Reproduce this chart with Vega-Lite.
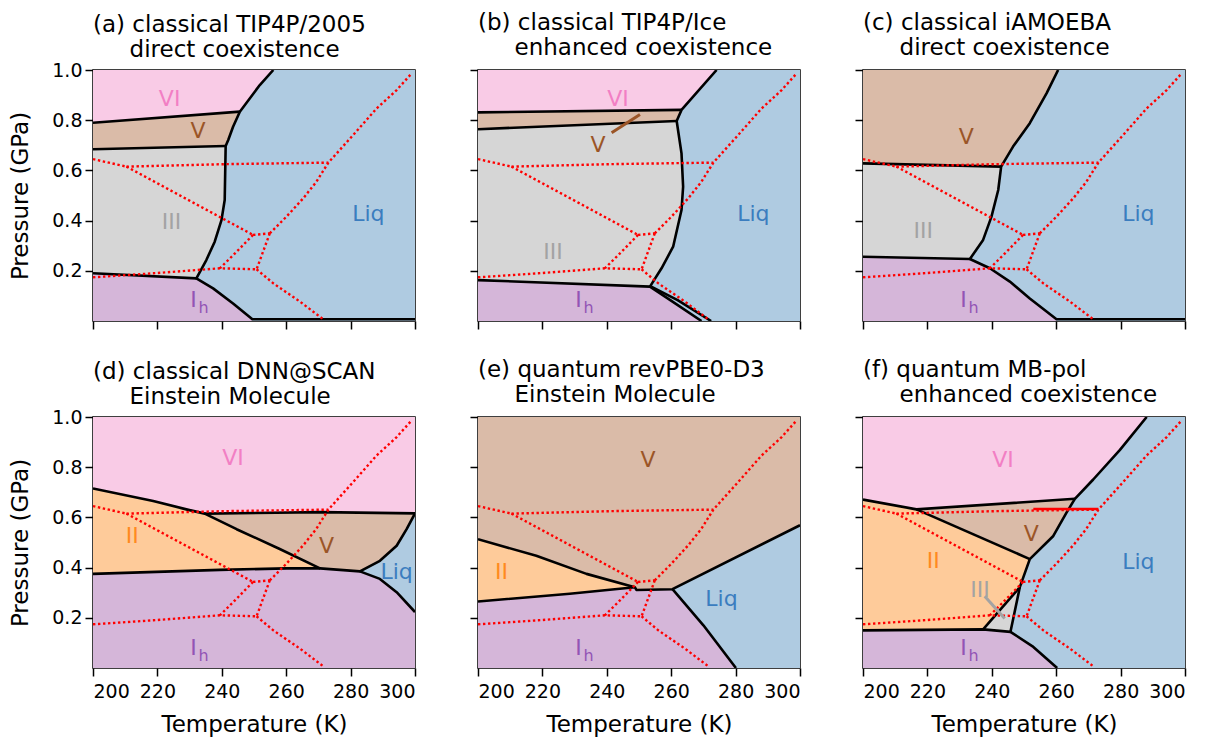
{
"$schema":"https://vega.github.io/schema/vega-lite/v6.json",
"background":"white",
"padding":{"left":9,"top":11,"right":5,"bottom":0},
"autosize":{"type":"pad"},
"config":{
 "font":"DejaVu Sans",
 "view":{"stroke":"black","strokeWidth":1.5},
 "axis":{"domain":false,"grid":false,"tickColor":"black","tickSize":8,"tickWidth":1.5,"labelFontSize":19,"labelColor":"black","labelFont":"DejaVu Sans","labelPadding":3,"titleFontSize":23,"titleFontWeight":"normal","titleColor":"black","titleFont":"DejaVu Sans"},
 "axisY":{"titlePadding":19},
 "axisX":{"labelPadding":6,"titlePadding":12},
 "title":{"font":"DejaVu Sans","fontSize":23,"fontWeight":"normal","anchor":"start","frame":"group","lineHeight":25,"color":"black"}
},
"datasets":{
"regions":[
{"p":"a","r":"Liq","i":0,"T":200,"P":0},{"p":"a","r":"Liq","i":1,"T":300,"P":0},{"p":"a","r":"Liq","i":2,"T":300,"P":1},{"p":"a","r":"Liq","i":3,"T":200,"P":1},
{"p":"a","r":"VI","i":0,"T":200,"P":1},{"p":"a","r":"VI","i":1,"T":256,"P":1},{"p":"a","r":"VI","i":2,"T":251.8,"P":0.94},{"p":"a","r":"VI","i":3,"T":245.6,"P":0.834},{"p":"a","r":"VI","i":4,"T":200,"P":0.79},
{"p":"a","r":"V","i":0,"T":200,"P":0.79},{"p":"a","r":"V","i":1,"T":245.6,"P":0.834},{"p":"a","r":"V","i":2,"T":243.5,"P":0.774},{"p":"a","r":"V","i":3,"T":242,"P":0.721},{"p":"a","r":"V","i":4,"T":241.2,"P":0.697},{"p":"a","r":"V","i":5,"T":200,"P":0.684},
{"p":"a","r":"III","i":0,"T":200,"P":0.684},{"p":"a","r":"III","i":1,"T":241.2,"P":0.697},{"p":"a","r":"III","i":2,"T":240.9,"P":0.482},{"p":"a","r":"III","i":3,"T":239.9,"P":0.402},{"p":"a","r":"III","i":4,"T":237.8,"P":0.316},{"p":"a","r":"III","i":5,"T":235.2,"P":0.243},{"p":"a","r":"III","i":6,"T":232.1,"P":0.17},{"p":"a","r":"III","i":7,"T":200,"P":0.19},
{"p":"a","r":"Ih","i":0,"T":200,"P":0.19},{"p":"a","r":"Ih","i":1,"T":232.1,"P":0.17},{"p":"a","r":"Ih","i":2,"T":237.3,"P":0.13},{"p":"a","r":"Ih","i":3,"T":243.5,"P":0.07},{"p":"a","r":"Ih","i":4,"T":249.5,"P":0.007},{"p":"a","r":"Ih","i":5,"T":249.5,"P":0},{"p":"a","r":"Ih","i":6,"T":200,"P":0},

{"p":"b","r":"Liq","i":0,"T":200,"P":0},{"p":"b","r":"Liq","i":1,"T":300,"P":0},{"p":"b","r":"Liq","i":2,"T":300,"P":1},{"p":"b","r":"Liq","i":3,"T":200,"P":1},
{"p":"b","r":"VI","i":0,"T":200,"P":1},{"p":"b","r":"VI","i":1,"T":274.1,"P":1},{"p":"b","r":"VI","i":2,"T":263.2,"P":0.841},{"p":"b","r":"VI","i":3,"T":200,"P":0.831},
{"p":"b","r":"V","i":0,"T":200,"P":0.831},{"p":"b","r":"V","i":1,"T":263.2,"P":0.841},{"p":"b","r":"V","i":2,"T":261.7,"P":0.797},{"p":"b","r":"V","i":3,"T":200,"P":0.764},
{"p":"b","r":"III","i":0,"T":200,"P":0.764},{"p":"b","r":"III","i":1,"T":261.7,"P":0.797},{"p":"b","r":"III","i":2,"T":263.2,"P":0.668},{"p":"b","r":"III","i":3,"T":263.7,"P":0.535},{"p":"b","r":"III","i":4,"T":263.2,"P":0.442},{"p":"b","r":"III","i":5,"T":260.6,"P":0.296},{"p":"b","r":"III","i":6,"T":257,"P":0.21},{"p":"b","r":"III","i":7,"T":253.4,"P":0.137},{"p":"b","r":"III","i":8,"T":200,"P":0.163},
{"p":"b","r":"Ih","i":0,"T":200,"P":0.163},{"p":"b","r":"Ih","i":1,"T":253.4,"P":0.137},{"p":"b","r":"Ih","i":2,"T":259.6,"P":0.084},{"p":"b","r":"Ih","i":3,"T":269.4,"P":0},{"p":"b","r":"Ih","i":4,"T":200,"P":0},

{"p":"c","r":"Liq","i":0,"T":200,"P":0},{"p":"c","r":"Liq","i":1,"T":300,"P":0},{"p":"c","r":"Liq","i":2,"T":300,"P":1},{"p":"c","r":"Liq","i":3,"T":200,"P":1},
{"p":"c","r":"V","i":0,"T":200,"P":1},{"p":"c","r":"V","i":1,"T":260.6,"P":1},{"p":"c","r":"V","i":2,"T":257,"P":0.907},{"p":"c","r":"V","i":3,"T":251.8,"P":0.788},{"p":"c","r":"V","i":4,"T":246.6,"P":0.695},{"p":"c","r":"V","i":5,"T":242.9,"P":0.615},{"p":"c","r":"V","i":6,"T":200,"P":0.628},
{"p":"c","r":"III","i":0,"T":200,"P":0.628},{"p":"c","r":"III","i":1,"T":242.9,"P":0.615},{"p":"c","r":"III","i":2,"T":242,"P":0.522},{"p":"c","r":"III","i":3,"T":239.9,"P":0.416},{"p":"c","r":"III","i":4,"T":237.3,"P":0.323},{"p":"c","r":"III","i":5,"T":233.2,"P":0.247},{"p":"c","r":"III","i":6,"T":200,"P":0.256},
{"p":"c","r":"Ih","i":0,"T":200,"P":0.256},{"p":"c","r":"Ih","i":1,"T":233.2,"P":0.247},{"p":"c","r":"Ih","i":2,"T":239.4,"P":0.21},{"p":"c","r":"Ih","i":3,"T":245.6,"P":0.157},{"p":"c","r":"Ih","i":4,"T":251.8,"P":0.09},{"p":"c","r":"Ih","i":5,"T":260.1,"P":0.007},{"p":"c","r":"Ih","i":6,"T":260.1,"P":0},{"p":"c","r":"Ih","i":7,"T":200,"P":0},

{"p":"d","r":"Liq","i":0,"T":200,"P":0},{"p":"d","r":"Liq","i":1,"T":300,"P":0},{"p":"d","r":"Liq","i":2,"T":300,"P":1},{"p":"d","r":"Liq","i":3,"T":200,"P":1},
{"p":"d","r":"VI","i":0,"T":200,"P":1},{"p":"d","r":"VI","i":1,"T":300,"P":1},{"p":"d","r":"VI","i":2,"T":300,"P":0.616},{"p":"d","r":"VI","i":3,"T":270.5,"P":0.621},{"p":"d","r":"VI","i":4,"T":234.7,"P":0.615},{"p":"d","r":"VI","i":5,"T":229,"P":0.632},{"p":"d","r":"VI","i":6,"T":218.7,"P":0.665},{"p":"d","r":"VI","i":7,"T":200,"P":0.715},
{"p":"d","r":"II","i":0,"T":200,"P":0.715},{"p":"d","r":"II","i":1,"T":218.7,"P":0.665},{"p":"d","r":"II","i":2,"T":229,"P":0.632},{"p":"d","r":"II","i":3,"T":234.7,"P":0.615},{"p":"d","r":"II","i":4,"T":244.6,"P":0.553},{"p":"d","r":"II","i":5,"T":258,"P":0.474},{"p":"d","r":"II","i":6,"T":270.5,"P":0.397},{"p":"d","r":"II","i":7,"T":260.1,"P":0.397},{"p":"d","r":"II","i":8,"T":239.4,"P":0.391},{"p":"d","r":"II","i":9,"T":200,"P":0.375},
{"p":"d","r":"V","i":0,"T":234.7,"P":0.615},{"p":"d","r":"V","i":1,"T":270.5,"P":0.621},{"p":"d","r":"V","i":2,"T":300,"P":0.616},{"p":"d","r":"V","i":3,"T":297.4,"P":0.553},{"p":"d","r":"V","i":4,"T":294.3,"P":0.487},{"p":"d","r":"V","i":5,"T":289.1,"P":0.427},{"p":"d","r":"V","i":6,"T":282.9,"P":0.385},{"p":"d","r":"V","i":7,"T":270.5,"P":0.397},{"p":"d","r":"V","i":8,"T":258,"P":0.474},{"p":"d","r":"V","i":9,"T":244.6,"P":0.553},
{"p":"d","r":"Ih","i":0,"T":200,"P":0.375},{"p":"d","r":"Ih","i":1,"T":239.4,"P":0.391},{"p":"d","r":"Ih","i":2,"T":260.1,"P":0.397},{"p":"d","r":"Ih","i":3,"T":270.5,"P":0.397},{"p":"d","r":"Ih","i":4,"T":282.9,"P":0.385},{"p":"d","r":"Ih","i":5,"T":289.1,"P":0.355},{"p":"d","r":"Ih","i":6,"T":294.3,"P":0.302},{"p":"d","r":"Ih","i":7,"T":300,"P":0.223},{"p":"d","r":"Ih","i":8,"T":300,"P":0},{"p":"d","r":"Ih","i":9,"T":200,"P":0},

{"p":"e","r":"Liq","i":0,"T":200,"P":0},{"p":"e","r":"Liq","i":1,"T":300,"P":0},{"p":"e","r":"Liq","i":2,"T":300,"P":1},{"p":"e","r":"Liq","i":3,"T":200,"P":1},
{"p":"e","r":"V","i":0,"T":200,"P":1},{"p":"e","r":"V","i":1,"T":300,"P":1},{"p":"e","r":"V","i":2,"T":300,"P":0.569},{"p":"e","r":"V","i":3,"T":260.4,"P":0.314},{"p":"e","r":"V","i":4,"T":249.2,"P":0.311},{"p":"e","r":"V","i":5,"T":248.7,"P":0.322},{"p":"e","r":"V","i":6,"T":233.7,"P":0.375},{"p":"e","r":"V","i":7,"T":218.1,"P":0.447},{"p":"e","r":"V","i":8,"T":200,"P":0.513},
{"p":"e","r":"II","i":0,"T":200,"P":0.513},{"p":"e","r":"II","i":1,"T":218.1,"P":0.447},{"p":"e","r":"II","i":2,"T":233.7,"P":0.375},{"p":"e","r":"II","i":3,"T":248.7,"P":0.322},{"p":"e","r":"II","i":4,"T":228.5,"P":0.296},{"p":"e","r":"II","i":5,"T":200,"P":0.265},
{"p":"e","r":"Ih","i":0,"T":200,"P":0.265},{"p":"e","r":"Ih","i":1,"T":228.5,"P":0.296},{"p":"e","r":"Ih","i":2,"T":248.7,"P":0.322},{"p":"e","r":"Ih","i":3,"T":249.2,"P":0.311},{"p":"e","r":"Ih","i":4,"T":260.4,"P":0.314},{"p":"e","r":"Ih","i":5,"T":270,"P":0.17},{"p":"e","r":"Ih","i":6,"T":280.1,"P":0},{"p":"e","r":"Ih","i":7,"T":200,"P":0},

{"p":"f","r":"Liq","i":0,"T":200,"P":0},{"p":"f","r":"Liq","i":1,"T":300,"P":0},{"p":"f","r":"Liq","i":2,"T":300,"P":1},{"p":"f","r":"Liq","i":3,"T":200,"P":1},
{"p":"f","r":"VI","i":0,"T":200,"P":1},{"p":"f","r":"VI","i":1,"T":288.1,"P":1},{"p":"f","r":"VI","i":2,"T":279.8,"P":0.869},{"p":"f","r":"VI","i":3,"T":271.5,"P":0.751},{"p":"f","r":"VI","i":4,"T":265.8,"P":0.674},{"p":"f","r":"VI","i":5,"T":216.6,"P":0.632},{"p":"f","r":"VI","i":6,"T":200,"P":0.671},
{"p":"f","r":"V","i":0,"T":216.6,"P":0.632},{"p":"f","r":"V","i":1,"T":265.8,"P":0.674},{"p":"f","r":"V","i":2,"T":263.2,"P":0.619},{"p":"f","r":"V","i":3,"T":259.1,"P":0.526},{"p":"f","r":"V","i":4,"T":251.8,"P":0.434},
{"p":"f","r":"II","i":0,"T":200,"P":0.671},{"p":"f","r":"II","i":1,"T":216.6,"P":0.632},{"p":"f","r":"II","i":2,"T":251.8,"P":0.434},{"p":"f","r":"II","i":3,"T":248.7,"P":0.322},{"p":"f","r":"II","i":4,"T":237.3,"P":0.154},{"p":"f","r":"II","i":5,"T":200,"P":0.15},
{"p":"f","r":"III","i":0,"T":248.7,"P":0.322},{"p":"f","r":"III","i":1,"T":245.8,"P":0.144},{"p":"f","r":"III","i":2,"T":237.3,"P":0.154},
{"p":"f","r":"Ih","i":0,"T":200,"P":0.15},{"p":"f","r":"Ih","i":1,"T":237.3,"P":0.154},{"p":"f","r":"Ih","i":2,"T":245.8,"P":0.144},{"p":"f","r":"Ih","i":3,"T":252.9,"P":0.084},{"p":"f","r":"Ih","i":4,"T":260.3,"P":0},{"p":"f","r":"Ih","i":5,"T":200,"P":0}
],
"bounds":[
{"p":"a","s":1,"i":0,"T":256,"P":1},{"p":"a","s":1,"i":1,"T":251.8,"P":0.94},{"p":"a","s":1,"i":2,"T":245.6,"P":0.834},{"p":"a","s":1,"i":3,"T":243.5,"P":0.774},{"p":"a","s":1,"i":4,"T":242,"P":0.721},{"p":"a","s":1,"i":5,"T":241.2,"P":0.697},{"p":"a","s":1,"i":6,"T":240.9,"P":0.482},{"p":"a","s":1,"i":7,"T":239.9,"P":0.402},{"p":"a","s":1,"i":8,"T":237.8,"P":0.316},{"p":"a","s":1,"i":9,"T":235.2,"P":0.243},{"p":"a","s":1,"i":10,"T":232.1,"P":0.17},{"p":"a","s":1,"i":11,"T":237.3,"P":0.13},{"p":"a","s":1,"i":12,"T":243.5,"P":0.07},{"p":"a","s":1,"i":13,"T":249.5,"P":0.007},{"p":"a","s":1,"i":14,"T":300,"P":0.007},
{"p":"a","s":2,"i":0,"T":200,"P":0.79},{"p":"a","s":2,"i":1,"T":245.6,"P":0.834},
{"p":"a","s":3,"i":0,"T":200,"P":0.684},{"p":"a","s":3,"i":1,"T":241.2,"P":0.697},
{"p":"a","s":4,"i":0,"T":200,"P":0.19},{"p":"a","s":4,"i":1,"T":232.1,"P":0.17},

{"p":"b","s":1,"i":0,"T":274.1,"P":1},{"p":"b","s":1,"i":1,"T":263.2,"P":0.841},{"p":"b","s":1,"i":2,"T":261.7,"P":0.797},{"p":"b","s":1,"i":3,"T":263.2,"P":0.668},{"p":"b","s":1,"i":4,"T":263.7,"P":0.535},{"p":"b","s":1,"i":5,"T":263.2,"P":0.442},{"p":"b","s":1,"i":6,"T":260.6,"P":0.296},{"p":"b","s":1,"i":7,"T":257,"P":0.21},{"p":"b","s":1,"i":8,"T":253.4,"P":0.137},{"p":"b","s":1,"i":9,"T":259.6,"P":0.084},{"p":"b","s":1,"i":10,"T":269.4,"P":0},
{"p":"b","s":2,"i":0,"T":200,"P":0.831},{"p":"b","s":2,"i":1,"T":263.2,"P":0.841},
{"p":"b","s":3,"i":0,"T":200,"P":0.764},{"p":"b","s":3,"i":1,"T":261.7,"P":0.797},
{"p":"b","s":4,"i":0,"T":200,"P":0.163},{"p":"b","s":4,"i":1,"T":253.4,"P":0.137},
{"p":"b","s":5,"i":0,"T":253.8,"P":0.137},{"p":"b","s":5,"i":1,"T":262,"P":0.083},{"p":"b","s":5,"i":2,"T":272.4,"P":0},

{"p":"c","s":1,"i":0,"T":260.6,"P":1},{"p":"c","s":1,"i":1,"T":257,"P":0.907},{"p":"c","s":1,"i":2,"T":251.8,"P":0.788},{"p":"c","s":1,"i":3,"T":246.6,"P":0.695},{"p":"c","s":1,"i":4,"T":242.9,"P":0.615},{"p":"c","s":1,"i":5,"T":242,"P":0.522},{"p":"c","s":1,"i":6,"T":239.9,"P":0.416},{"p":"c","s":1,"i":7,"T":237.3,"P":0.323},{"p":"c","s":1,"i":8,"T":233.2,"P":0.247},{"p":"c","s":1,"i":9,"T":239.4,"P":0.21},{"p":"c","s":1,"i":10,"T":245.6,"P":0.157},{"p":"c","s":1,"i":11,"T":251.8,"P":0.09},{"p":"c","s":1,"i":12,"T":260.1,"P":0.007},{"p":"c","s":1,"i":13,"T":300,"P":0.007},
{"p":"c","s":2,"i":0,"T":200,"P":0.628},{"p":"c","s":2,"i":1,"T":242.9,"P":0.615},
{"p":"c","s":3,"i":0,"T":200,"P":0.256},{"p":"c","s":3,"i":1,"T":233.2,"P":0.247},

{"p":"d","s":1,"i":0,"T":200,"P":0.715},{"p":"d","s":1,"i":1,"T":218.7,"P":0.665},{"p":"d","s":1,"i":2,"T":229,"P":0.632},{"p":"d","s":1,"i":3,"T":234.7,"P":0.615},{"p":"d","s":1,"i":4,"T":244.6,"P":0.553},{"p":"d","s":1,"i":5,"T":258,"P":0.474},{"p":"d","s":1,"i":6,"T":270.5,"P":0.397},{"p":"d","s":1,"i":7,"T":282.9,"P":0.385},{"p":"d","s":1,"i":8,"T":289.1,"P":0.427},{"p":"d","s":1,"i":9,"T":294.3,"P":0.487},{"p":"d","s":1,"i":10,"T":297.4,"P":0.553},{"p":"d","s":1,"i":11,"T":300,"P":0.616},
{"p":"d","s":2,"i":0,"T":234.7,"P":0.615},{"p":"d","s":2,"i":1,"T":270.5,"P":0.621},{"p":"d","s":2,"i":2,"T":300,"P":0.616},
{"p":"d","s":3,"i":0,"T":200,"P":0.375},{"p":"d","s":3,"i":1,"T":239.4,"P":0.391},{"p":"d","s":3,"i":2,"T":260.1,"P":0.397},{"p":"d","s":3,"i":3,"T":270.5,"P":0.397},
{"p":"d","s":4,"i":0,"T":282.9,"P":0.385},{"p":"d","s":4,"i":1,"T":289.1,"P":0.355},{"p":"d","s":4,"i":2,"T":294.3,"P":0.302},{"p":"d","s":4,"i":3,"T":300,"P":0.223},

{"p":"e","s":1,"i":0,"T":200,"P":0.513},{"p":"e","s":1,"i":1,"T":218.1,"P":0.447},{"p":"e","s":1,"i":2,"T":233.7,"P":0.375},{"p":"e","s":1,"i":3,"T":248.7,"P":0.322},{"p":"e","s":1,"i":4,"T":249.2,"P":0.311},{"p":"e","s":1,"i":5,"T":260.4,"P":0.314},{"p":"e","s":1,"i":6,"T":300,"P":0.569},
{"p":"e","s":2,"i":0,"T":200,"P":0.265},{"p":"e","s":2,"i":1,"T":228.5,"P":0.296},{"p":"e","s":2,"i":2,"T":248.7,"P":0.322},
{"p":"e","s":3,"i":0,"T":260.4,"P":0.314},{"p":"e","s":3,"i":1,"T":270,"P":0.17},{"p":"e","s":3,"i":2,"T":280.1,"P":0},

{"p":"f","s":1,"i":0,"T":288.1,"P":1},{"p":"f","s":1,"i":1,"T":279.8,"P":0.869},{"p":"f","s":1,"i":2,"T":271.5,"P":0.751},{"p":"f","s":1,"i":3,"T":265.8,"P":0.674},{"p":"f","s":1,"i":4,"T":263.2,"P":0.619},{"p":"f","s":1,"i":5,"T":259.1,"P":0.526},{"p":"f","s":1,"i":6,"T":251.8,"P":0.434},{"p":"f","s":1,"i":7,"T":248.7,"P":0.322},{"p":"f","s":1,"i":8,"T":245.8,"P":0.144},{"p":"f","s":1,"i":9,"T":252.9,"P":0.084},{"p":"f","s":1,"i":10,"T":260.3,"P":0},
{"p":"f","s":2,"i":0,"T":200,"P":0.671},{"p":"f","s":2,"i":1,"T":216.6,"P":0.632},{"p":"f","s":2,"i":2,"T":265.8,"P":0.674},
{"p":"f","s":3,"i":0,"T":216.6,"P":0.632},{"p":"f","s":3,"i":1,"T":251.8,"P":0.434},
{"p":"f","s":4,"i":0,"T":248.7,"P":0.322},{"p":"f","s":4,"i":1,"T":237.3,"P":0.154},
{"p":"f","s":5,"i":0,"T":200,"P":0.15},{"p":"f","s":5,"i":1,"T":237.3,"P":0.154},{"p":"f","s":5,"i":2,"T":245.8,"P":0.144}
],
"exp":[
{"s":1,"i":0,"T":200,"P":0.645},{"s":1,"i":1,"T":210.4,"P":0.615},
{"s":2,"i":0,"T":210.4,"P":0.615},{"s":2,"i":1,"T":241.5,"P":0.625},{"s":2,"i":2,"T":273.1,"P":0.631},
{"s":3,"i":0,"T":210.4,"P":0.615},{"s":3,"i":1,"T":249.7,"P":0.343},
{"s":4,"i":0,"T":249.7,"P":0.343},{"s":4,"i":1,"T":254.9,"P":0.349},
{"s":5,"i":0,"T":254.9,"P":0.349},{"s":5,"i":1,"T":260.1,"P":0.416},{"s":5,"i":2,"T":265.3,"P":0.489},{"s":5,"i":3,"T":269.4,"P":0.555},{"s":5,"i":4,"T":273.1,"P":0.631},{"s":5,"i":5,"T":280.8,"P":0.741},{"s":5,"i":6,"T":288.1,"P":0.847},{"s":5,"i":7,"T":294.3,"P":0.92},{"s":5,"i":8,"T":299,"P":0.987},
{"s":6,"i":0,"T":249.7,"P":0.343},{"s":6,"i":1,"T":244.6,"P":0.276},{"s":6,"i":2,"T":239.4,"P":0.21},
{"s":7,"i":0,"T":254.9,"P":0.349},{"s":7,"i":1,"T":250.8,"P":0.206},
{"s":8,"i":0,"T":200,"P":0.174},{"s":8,"i":1,"T":218.7,"P":0.19},{"s":8,"i":2,"T":239.4,"P":0.21},{"s":8,"i":3,"T":250.8,"P":0.206},
{"s":9,"i":0,"T":250.8,"P":0.206},{"s":9,"i":1,"T":256,"P":0.15},{"s":9,"i":2,"T":264.3,"P":0.077},{"s":9,"i":3,"T":271.5,"P":0.007}
],
"solidred":[
{"p":"f","i":0,"T":252.9,"P":0.633},{"p":"f","i":1,"T":273.1,"P":0.633}
],
"labels":[
{"p":"a","ph":"VI","t":"VI","T":223.8,"P":0.883},{"p":"a","ph":"V","t":"V","T":232.6,"P":0.758},{"p":"a","ph":"III","t":"III","T":224.4,"P":0.396},{"p":"a","ph":"Ih","t":"I","T":231.2,"P":0.083},{"p":"a","ph":"Liq","t":"Liq","T":285.5,"P":0.426},
{"p":"b","ph":"VI","t":"VI","T":243.5,"P":0.883},{"p":"b","ph":"V","t":"V","T":237.3,"P":0.701},{"p":"b","ph":"III","t":"III","T":223.3,"P":0.276},{"p":"b","ph":"Ih","t":"I","T":231.2,"P":0.083},{"p":"b","ph":"Liq","t":"Liq","T":285.5,"P":0.426},
{"p":"c","ph":"V","t":"V","T":232.1,"P":0.734},{"p":"c","ph":"III","t":"III","T":218.7,"P":0.36},{"p":"c","ph":"Ih","t":"I","T":231.2,"P":0.083},{"p":"c","ph":"Liq","t":"Liq","T":285.5,"P":0.426},
{"p":"d","ph":"VI","t":"VI","T":243.5,"P":0.836},{"p":"d","ph":"II","t":"II","T":212.2,"P":0.526},{"p":"d","ph":"V","t":"V","T":272.5,"P":0.487},{"p":"d","ph":"Ih","t":"I","T":231.2,"P":0.08},{"p":"d","ph":"Liq","t":"Liq","T":294.3,"P":0.381},
{"p":"e","ph":"V","t":"V","T":252.8,"P":0.83},{"p":"e","ph":"II","t":"II","T":207.3,"P":0.381},{"p":"e","ph":"Liq","t":"Liq","T":275.6,"P":0.276},{"p":"e","ph":"Ih","t":"I","T":231.2,"P":0.08},
{"p":"f","ph":"VI","t":"VI","T":243.5,"P":0.83},{"p":"f","ph":"V","t":"V","T":252.3,"P":0.533},{"p":"f","ph":"II","t":"II","T":221.8,"P":0.427},{"p":"f","ph":"III","t":"III","T":236.3,"P":0.309},{"p":"f","ph":"Liq","t":"Liq","T":285.5,"P":0.421},{"p":"f","ph":"Ih","t":"I","T":231.2,"P":0.08}
],
"leaders":[
{"p":"b","ph":"V","i":0,"T":241.5,"P":0.75},{"p":"b","ph":"V","i":1,"T":250.3,"P":0.823},
{"p":"f","ph":"III","i":0,"T":237.8,"P":0.286},{"p":"f","ph":"III","i":1,"T":244,"P":0.197}
]
},
"columns":3,
"spacing":{"row":96,"column":63},
"bounds":"flush",
"concat":[
{"width":322,"height":251,
 "title":{"text":["(a) classical TIP4P/2005","\u200b\u00a0\u00a0\u00a0\u00a0\u00a0direct coexistence"],"offset":-1},
 "encoding":{
  "x":{"field":"T","type":"quantitative","scale":{"domain":[200,300],"nice":false,"zero":false},"axis":{"values":[200,220,240,260,280,300],"labels":false,"title":null}},
  "y":{"field":"P","type":"quantitative","scale":{"domain":[0,1],"nice":false,"zero":false},"axis":{"values":[0.2,0.4,0.6,0.8,1.0],"format":".1f","title":"Pressure (GPa)"}}},
 "layer":[
  {"data":{"name":"regions"},"transform":[{"filter":"datum.p=='a'"}],"mark":{"type":"line","filled":true,"clip":true},"encoding":{"fill":{"field":"r","type":"nominal","legend":null,"scale":{"domain":["Liq","VI","V","III","Ih","II"],"range":["#afcbe1","#f9cbe6","#dabba8","#d6d6d6","#d5b6d9","#fecb9a"]}},"order":{"field":"i","type":"quantitative"}}},
  {"data":{"name":"bounds"},"transform":[{"filter":"datum.p=='a'"}],"mark":{"type":"line","color":"black","strokeWidth":2.6,"strokeJoin":"round","clip":true},"encoding":{"detail":{"field":"s","type":"nominal"},"order":{"field":"i","type":"quantitative"}}},
  {"data":{"name":"exp"},"mark":{"type":"line","color":"#ff0000","strokeWidth":2.4,"strokeDash":[2.4,2.6],"clip":true},"encoding":{"detail":{"field":"s","type":"nominal"},"order":{"field":"i","type":"quantitative"}}},
  {"data":{"name":"labels"},"transform":[{"filter":"datum.p=='a'"}],"mark":{"type":"text","fontSize":22,"baseline":"middle","align":"center"},"encoding":{"text":{"field":"t","type":"nominal"},"color":{"field":"ph","type":"nominal","legend":null,"scale":{"domain":["Liq","VI","V","III","Ih","II"],"range":["#3b7dbf","#f27fc4","#9b5527","#a3a3a3","#9354b5","#ff8a1f"]}}}},
  {"data":{"name":"labels"},"transform":[{"filter":"datum.p=='a' && datum.ph=='Ih'"}],"mark":{"type":"text","fontSize":16,"baseline":"middle","align":"center","dx":10,"dy":8,"color":"#9354b5"},"encoding":{"text":{"value":"h"}}}
 ]},
{"width":322,"height":251,
 "title":{"text":["(b) classical TIP4P/Ice","\u200b\u00a0\u00a0\u00a0\u00a0\u00a0enhanced coexistence"],"offset":9},
 "encoding":{
  "x":{"field":"T","type":"quantitative","scale":{"domain":[200,300],"nice":false,"zero":false},"axis":{"values":[200,220,240,260,280,300],"labels":false,"title":null}},
  "y":{"field":"P","type":"quantitative","scale":{"domain":[0,1],"nice":false,"zero":false},"axis":{"values":[0.2,0.4,0.6,0.8,1.0],"labels":false,"title":null}}},
 "layer":[
  {"data":{"name":"regions"},"transform":[{"filter":"datum.p=='b'"}],"mark":{"type":"line","filled":true,"clip":true},"encoding":{"fill":{"field":"r","type":"nominal","legend":null,"scale":{"domain":["Liq","VI","V","III","Ih","II"],"range":["#afcbe1","#f9cbe6","#dabba8","#d6d6d6","#d5b6d9","#fecb9a"]}},"order":{"field":"i","type":"quantitative"}}},
  {"data":{"name":"bounds"},"transform":[{"filter":"datum.p=='b'"}],"mark":{"type":"line","color":"black","strokeWidth":2.6,"strokeJoin":"round","clip":true},"encoding":{"detail":{"field":"s","type":"nominal"},"order":{"field":"i","type":"quantitative"}}},
  {"data":{"name":"exp"},"mark":{"type":"line","color":"#ff0000","strokeWidth":2.4,"strokeDash":[2.4,2.6],"clip":true},"encoding":{"detail":{"field":"s","type":"nominal"},"order":{"field":"i","type":"quantitative"}}},
  {"data":{"name":"leaders"},"transform":[{"filter":"datum.p=='b'"}],"mark":{"type":"line","strokeWidth":3,"clip":true},"encoding":{"color":{"field":"ph","type":"nominal","legend":null,"scale":{"domain":["Liq","VI","V","III","Ih","II"],"range":["#3b7dbf","#f27fc4","#9b5527","#a3a3a3","#9354b5","#ff8a1f"]}},"order":{"field":"i","type":"quantitative"}}},
  {"data":{"name":"labels"},"transform":[{"filter":"datum.p=='b'"}],"mark":{"type":"text","fontSize":22,"baseline":"middle","align":"center"},"encoding":{"text":{"field":"t","type":"nominal"},"color":{"field":"ph","type":"nominal","legend":null,"scale":{"domain":["Liq","VI","V","III","Ih","II"],"range":["#3b7dbf","#f27fc4","#9b5527","#a3a3a3","#9354b5","#ff8a1f"]}}}},
  {"data":{"name":"labels"},"transform":[{"filter":"datum.p=='b' && datum.ph=='Ih'"}],"mark":{"type":"text","fontSize":16,"baseline":"middle","align":"center","dx":10,"dy":8,"color":"#9354b5"},"encoding":{"text":{"value":"h"}}}
 ]},
{"width":322,"height":251,
 "title":{"text":["(c) classical iAMOEBA","\u200b\u00a0\u00a0\u00a0\u00a0\u00a0direct coexistence"],"offset":9},
 "encoding":{
  "x":{"field":"T","type":"quantitative","scale":{"domain":[200,300],"nice":false,"zero":false},"axis":{"values":[200,220,240,260,280,300],"labels":false,"title":null}},
  "y":{"field":"P","type":"quantitative","scale":{"domain":[0,1],"nice":false,"zero":false},"axis":{"values":[0.2,0.4,0.6,0.8,1.0],"labels":false,"title":null}}},
 "layer":[
  {"data":{"name":"regions"},"transform":[{"filter":"datum.p=='c'"}],"mark":{"type":"line","filled":true,"clip":true},"encoding":{"fill":{"field":"r","type":"nominal","legend":null,"scale":{"domain":["Liq","VI","V","III","Ih","II"],"range":["#afcbe1","#f9cbe6","#dabba8","#d6d6d6","#d5b6d9","#fecb9a"]}},"order":{"field":"i","type":"quantitative"}}},
  {"data":{"name":"bounds"},"transform":[{"filter":"datum.p=='c'"}],"mark":{"type":"line","color":"black","strokeWidth":2.6,"strokeJoin":"round","clip":true},"encoding":{"detail":{"field":"s","type":"nominal"},"order":{"field":"i","type":"quantitative"}}},
  {"data":{"name":"exp"},"mark":{"type":"line","color":"#ff0000","strokeWidth":2.4,"strokeDash":[2.4,2.6],"clip":true},"encoding":{"detail":{"field":"s","type":"nominal"},"order":{"field":"i","type":"quantitative"}}},
  {"data":{"name":"labels"},"transform":[{"filter":"datum.p=='c'"}],"mark":{"type":"text","fontSize":22,"baseline":"middle","align":"center"},"encoding":{"text":{"field":"t","type":"nominal"},"color":{"field":"ph","type":"nominal","legend":null,"scale":{"domain":["Liq","VI","V","III","Ih","II"],"range":["#3b7dbf","#f27fc4","#9b5527","#a3a3a3","#9354b5","#ff8a1f"]}}}},
  {"data":{"name":"labels"},"transform":[{"filter":"datum.p=='c' && datum.ph=='Ih'"}],"mark":{"type":"text","fontSize":16,"baseline":"middle","align":"center","dx":10,"dy":8,"color":"#9354b5"},"encoding":{"text":{"value":"h"}}}
 ]},
{"width":322,"height":251,
 "title":{"text":["(d) classical DNN@SCAN","\u200b\u00a0\u00a0\u00a0\u00a0\u00a0Einstein Molecule"],"offset":-1},
 "encoding":{
  "x":{"field":"T","type":"quantitative","scale":{"domain":[200,300],"nice":false,"zero":false},"axis":{"values":[200,220,240,260,280,300],"title":"Temperature (K)"}},
  "y":{"field":"P","type":"quantitative","scale":{"domain":[0,1],"nice":false,"zero":false},"axis":{"values":[0.2,0.4,0.6,0.8,1.0],"format":".1f","title":"Pressure (GPa)"}}},
 "layer":[
  {"data":{"name":"regions"},"transform":[{"filter":"datum.p=='d'"}],"mark":{"type":"line","filled":true,"clip":true},"encoding":{"fill":{"field":"r","type":"nominal","legend":null,"scale":{"domain":["Liq","VI","V","III","Ih","II"],"range":["#afcbe1","#f9cbe6","#dabba8","#d6d6d6","#d5b6d9","#fecb9a"]}},"order":{"field":"i","type":"quantitative"}}},
  {"data":{"name":"bounds"},"transform":[{"filter":"datum.p=='d'"}],"mark":{"type":"line","color":"black","strokeWidth":2.6,"strokeJoin":"round","clip":true},"encoding":{"detail":{"field":"s","type":"nominal"},"order":{"field":"i","type":"quantitative"}}},
  {"data":{"name":"exp"},"mark":{"type":"line","color":"#ff0000","strokeWidth":2.4,"strokeDash":[2.4,2.6],"clip":true},"encoding":{"detail":{"field":"s","type":"nominal"},"order":{"field":"i","type":"quantitative"}}},
  {"data":{"name":"labels"},"transform":[{"filter":"datum.p=='d'"}],"mark":{"type":"text","fontSize":22,"baseline":"middle","align":"center"},"encoding":{"text":{"field":"t","type":"nominal"},"color":{"field":"ph","type":"nominal","legend":null,"scale":{"domain":["Liq","VI","V","III","Ih","II"],"range":["#3b7dbf","#f27fc4","#9b5527","#a3a3a3","#9354b5","#ff8a1f"]}}}},
  {"data":{"name":"labels"},"transform":[{"filter":"datum.p=='d' && datum.ph=='Ih'"}],"mark":{"type":"text","fontSize":16,"baseline":"middle","align":"center","dx":10,"dy":8,"color":"#9354b5"},"encoding":{"text":{"value":"h"}}}
 ]},
{"width":322,"height":251,
 "title":{"text":["(e) quantum revPBE0-D3","\u200b\u00a0\u00a0\u00a0\u00a0\u00a0Einstein Molecule"],"offset":9},
 "encoding":{
  "x":{"field":"T","type":"quantitative","scale":{"domain":[200,300],"nice":false,"zero":false},"axis":{"values":[200,220,240,260,280,300],"title":"Temperature (K)"}},
  "y":{"field":"P","type":"quantitative","scale":{"domain":[0,1],"nice":false,"zero":false},"axis":{"values":[0.2,0.4,0.6,0.8,1.0],"labels":false,"title":null}}},
 "layer":[
  {"data":{"name":"regions"},"transform":[{"filter":"datum.p=='e'"}],"mark":{"type":"line","filled":true,"clip":true},"encoding":{"fill":{"field":"r","type":"nominal","legend":null,"scale":{"domain":["Liq","VI","V","III","Ih","II"],"range":["#afcbe1","#f9cbe6","#dabba8","#d6d6d6","#d5b6d9","#fecb9a"]}},"order":{"field":"i","type":"quantitative"}}},
  {"data":{"name":"bounds"},"transform":[{"filter":"datum.p=='e'"}],"mark":{"type":"line","color":"black","strokeWidth":2.6,"strokeJoin":"round","clip":true},"encoding":{"detail":{"field":"s","type":"nominal"},"order":{"field":"i","type":"quantitative"}}},
  {"data":{"name":"exp"},"mark":{"type":"line","color":"#ff0000","strokeWidth":2.4,"strokeDash":[2.4,2.6],"clip":true},"encoding":{"detail":{"field":"s","type":"nominal"},"order":{"field":"i","type":"quantitative"}}},
  {"data":{"name":"labels"},"transform":[{"filter":"datum.p=='e'"}],"mark":{"type":"text","fontSize":22,"baseline":"middle","align":"center"},"encoding":{"text":{"field":"t","type":"nominal"},"color":{"field":"ph","type":"nominal","legend":null,"scale":{"domain":["Liq","VI","V","III","Ih","II"],"range":["#3b7dbf","#f27fc4","#9b5527","#a3a3a3","#9354b5","#ff8a1f"]}}}},
  {"data":{"name":"labels"},"transform":[{"filter":"datum.p=='e' && datum.ph=='Ih'"}],"mark":{"type":"text","fontSize":16,"baseline":"middle","align":"center","dx":10,"dy":8,"color":"#9354b5"},"encoding":{"text":{"value":"h"}}}
 ]},
{"width":322,"height":251,
 "title":{"text":["(f) quantum MB-pol","\u200b\u00a0\u00a0\u00a0\u00a0\u00a0enhanced coexistence"],"offset":9},
 "encoding":{
  "x":{"field":"T","type":"quantitative","scale":{"domain":[200,300],"nice":false,"zero":false},"axis":{"values":[200,220,240,260,280,300],"title":"Temperature (K)"}},
  "y":{"field":"P","type":"quantitative","scale":{"domain":[0,1],"nice":false,"zero":false},"axis":{"values":[0.2,0.4,0.6,0.8,1.0],"labels":false,"title":null}}},
 "layer":[
  {"data":{"name":"regions"},"transform":[{"filter":"datum.p=='f'"}],"mark":{"type":"line","filled":true,"clip":true},"encoding":{"fill":{"field":"r","type":"nominal","legend":null,"scale":{"domain":["Liq","VI","V","III","Ih","II"],"range":["#afcbe1","#f9cbe6","#dabba8","#d6d6d6","#d5b6d9","#fecb9a"]}},"order":{"field":"i","type":"quantitative"}}},
  {"data":{"name":"bounds"},"transform":[{"filter":"datum.p=='f'"}],"mark":{"type":"line","color":"black","strokeWidth":2.6,"strokeJoin":"round","clip":true},"encoding":{"detail":{"field":"s","type":"nominal"},"order":{"field":"i","type":"quantitative"}}},
  {"data":{"name":"exp"},"mark":{"type":"line","color":"#ff0000","strokeWidth":2.4,"strokeDash":[2.4,2.6],"clip":true},"encoding":{"detail":{"field":"s","type":"nominal"},"order":{"field":"i","type":"quantitative"}}},
  {"data":{"name":"solidred"},"mark":{"type":"line","color":"#ff0000","strokeWidth":2.5,"clip":true},"encoding":{"order":{"field":"i","type":"quantitative"}}},
  {"data":{"name":"leaders"},"transform":[{"filter":"datum.p=='f'"}],"mark":{"type":"line","strokeWidth":3,"clip":true},"encoding":{"color":{"field":"ph","type":"nominal","legend":null,"scale":{"domain":["Liq","VI","V","III","Ih","II"],"range":["#3b7dbf","#f27fc4","#9b5527","#a3a3a3","#9354b5","#ff8a1f"]}},"order":{"field":"i","type":"quantitative"}}},
  {"data":{"name":"labels"},"transform":[{"filter":"datum.p=='f'"}],"mark":{"type":"text","fontSize":22,"baseline":"middle","align":"center"},"encoding":{"text":{"field":"t","type":"nominal"},"color":{"field":"ph","type":"nominal","legend":null,"scale":{"domain":["Liq","VI","V","III","Ih","II"],"range":["#3b7dbf","#f27fc4","#9b5527","#a3a3a3","#9354b5","#ff8a1f"]}}}},
  {"data":{"name":"labels"},"transform":[{"filter":"datum.p=='f' && datum.ph=='Ih'"}],"mark":{"type":"text","fontSize":16,"baseline":"middle","align":"center","dx":10,"dy":8,"color":"#9354b5"},"encoding":{"text":{"value":"h"}}}
 ]}
]
}
